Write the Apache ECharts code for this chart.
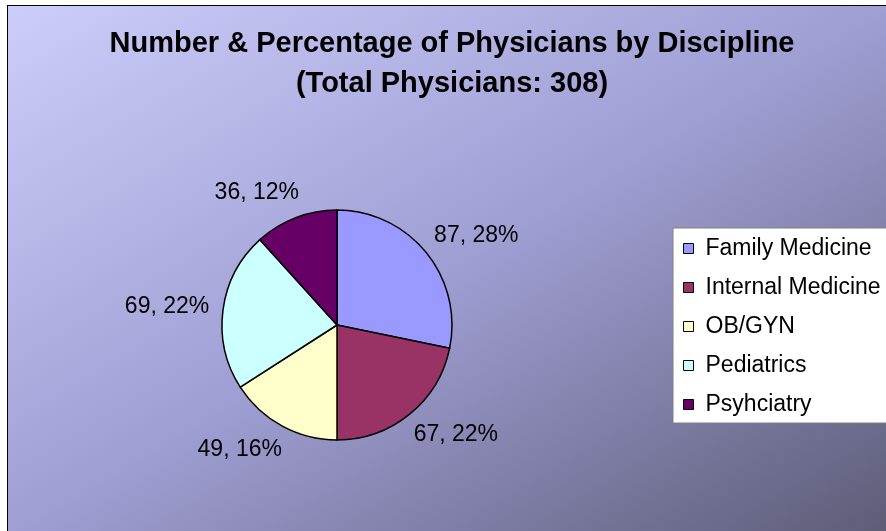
<!DOCTYPE html>
<html>
<head>
<meta charset="utf-8">
<script src="https://cdn.jsdelivr.net/npm/echarts@6/dist/echarts.min.js"></script>
<style>
    html, body { margin: 0; padding: 0; background: #fff; overflow: hidden; }
    #bg {
        position: absolute; left: 7px; top: 5px;
        width: 886px; height: 532px;
        border: 1px solid #000;
        background: linear-gradient(to bottom right, #cdcdfb 0%, #9f9ed3 50%, #5c5c76 100%);
    }
    #chart { position: absolute; left: 0; top: 0; width: 886px; height: 531px; }
</style>
</head>
<body>
<div id="bg"></div>
<div id="chart"></div>
<script>
    // data
    var disciplines = ['Family Medicine', 'Internal Medicine', 'OB/GYN', 'Pediatrics', 'Psyhciatry'];
    var physicians = [87, 67, 49, 69, 36];
    var sliceColors = ['#9999ff', '#993366', '#ffffcc', '#ccffff', '#660066'];

    var total = physicians.reduce(function(a, b) { return a + b }, 0);
    var font = 'Liberation Sans, Arial, sans-serif';

    var myChart = echarts.init(document.getElementById('chart'), null, {renderer: 'canvas'});
    var option = {
        animation: false,
        color: sliceColors,
        title: {
            text: 'Number & Percentage of Physicians by Discipline\n(Total Physicians: ' + total + ')',
            left: 452,
            top: 24,
            padding: 0,
            textAlign: 'center',
            textStyle: {
                fontFamily: font,
                fontSize: 29,
                fontWeight: 'bold',
                lineHeight: 40,
                color: '#000'
            }
        },
        legend: {
            orient: 'vertical',
            left: 673,
            top: 228,
            padding: [9, 80, 7, 10],
            itemGap: 16,
            itemWidth: 10,
            itemHeight: 10,
            icon: 'rect',
            backgroundColor: '#fff',
            borderColor: '#808080',
            borderWidth: 1,
            borderRadius: 0,
            selectedMode: false,
            itemStyle: {
                borderColor: '#000',
                borderWidth: 1
            },
            textStyle: {
                fontFamily: font,
                fontSize: 23,
                lineHeight: 23,
                color: '#000',
                padding: [0, 0, 0, 7]
            },
            data: disciplines
        },
        series: [{
            type: 'pie',
            center: [337, 325],
            radius: 115,
            startAngle: 90,
            clockwise: true,
            silent: true,
            data: disciplines.map(function(name, i) {
                return {name: name, value: physicians[i]}
            }),
            itemStyle: {
                borderColor: '#000',
                borderWidth: 1.5
            },
            label: {
                show: true,
                position: 'outside',
                fontFamily: font,
                fontSize: 23,
                color: '#000',
                distanceToLabelLine: -13,
                formatter: function(params) {
                    return params.value + ', ' + Math.round(params.percent) + '%';
                }
            },
            labelLine: {
                show: false,
                length: 27,
                length2: 0
            },
            emphasis: { disabled: true }
        }]
    };
    myChart.setOption(option);
</script>
</body>
</html>
